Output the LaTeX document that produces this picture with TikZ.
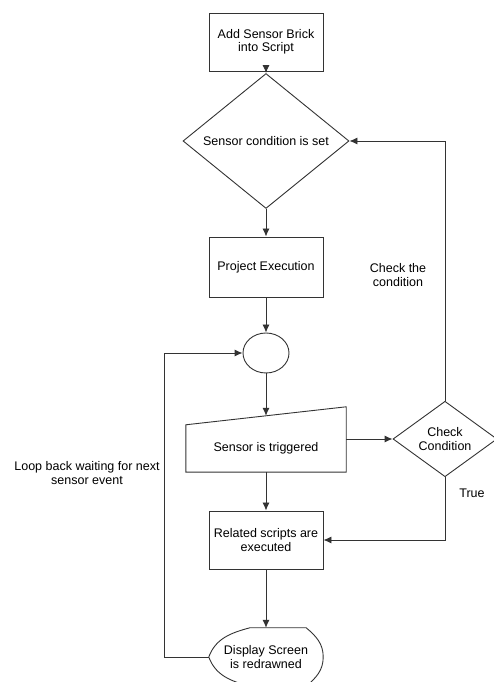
\documentclass[tikz,border=0pt]{standalone}
\usepackage{fontspec}
\setmainfont{Liberation Sans}
\usetikzlibrary{shapes.geometric,arrows.meta,positioning}

\begin{document}
\begin{tikzpicture}[x=1pt,y=1pt,on grid,
    font=\fontsize{12.5}{13.5}\selectfont,
    line/.style={draw=black!80,line width=0.9pt},
    arrow/.style={line,-{Latex[length=8pt,width=7pt]}},
    block/.style={line,rectangle,minimum width=114pt,minimum height=58pt,align=center,inner sep=2pt},
    decision/.style={line,diamond,inner sep=0pt,align=center},
    plain/.style={align=center,inner sep=0pt}]
    \useasboundingbox (0,0) rectangle (493,682);
    \node[block] (brick) at (266,640) {Add Sensor Brick\\into Script};
    \node[decision, minimum width=166pt, minimum height=86pt] (cond) [below=99pt of brick] {Sensor condition is set};
    \node[block, minimum height=60pt] (exec) [below=126pt of cond] {Project Execution};
    \node[line, ellipse, minimum width=46pt, minimum height=40pt] (join) [below=86pt of exec] {};
    \node[plain, minimum width=160pt, minimum height=47pt] (trig) [below=95.5pt of join] {Sensor is triggered};
    \node[block] (related) [below=91.5pt of trig] {Related scripts are\\executed};
    \node[plain, minimum width=114pt, minimum height=58pt] (disp) [below=117pt of related] {Display Screen\\is redrawned};
    \node[decision, minimum width=104pt, minimum height=58pt] (check) at (445,243) {Check\\Condition};
    \coordinate (trigtop) at ([yshift=9pt]trig.north);
    \draw[line] (trig.south west) -- (trig.south east) -- ([yshift=18pt]trig.north east) -- (trig.north west) -- cycle;
    \draw[line] ([xshift=41pt]disp.north west) -- ([xshift=-17pt]disp.north east)
        to[out=-40,in=90] (disp.east) to[out=-90,in=40] ([xshift=-17pt]disp.south east)
        -- ([xshift=41pt]disp.south west) to[out=165,in=-70] (disp.west)
        to[out=70,in=-165] ([xshift=41pt]disp.north west);
    \draw[arrow] (brick) -- (cond);
    \draw[arrow] (cond) -- (exec);
    \draw[arrow] (exec) -- (join);
    \draw[arrow] (join) -- (trigtop);
    \draw[arrow] (trig) -- (related);
    \draw[arrow] (related) -- (disp);
    \draw[arrow] (check.west -| trig.east) -- (check.west);
    \draw[arrow] (check.north) |- (cond.east);
    \draw[arrow] (check.south) |- (related.east);
    \draw[arrow] (disp.west) -- ++(-44,0) |- (join.west);
    \node[plain] (checklbl) at (398,407) {Check the\\condition};
    \node[plain] (truelbl) at (472,189) {True};
    \node[plain] (looplbl) at (87,209) {Loop back waiting for next\\sensor event};
\end{tikzpicture}
\end{document}
